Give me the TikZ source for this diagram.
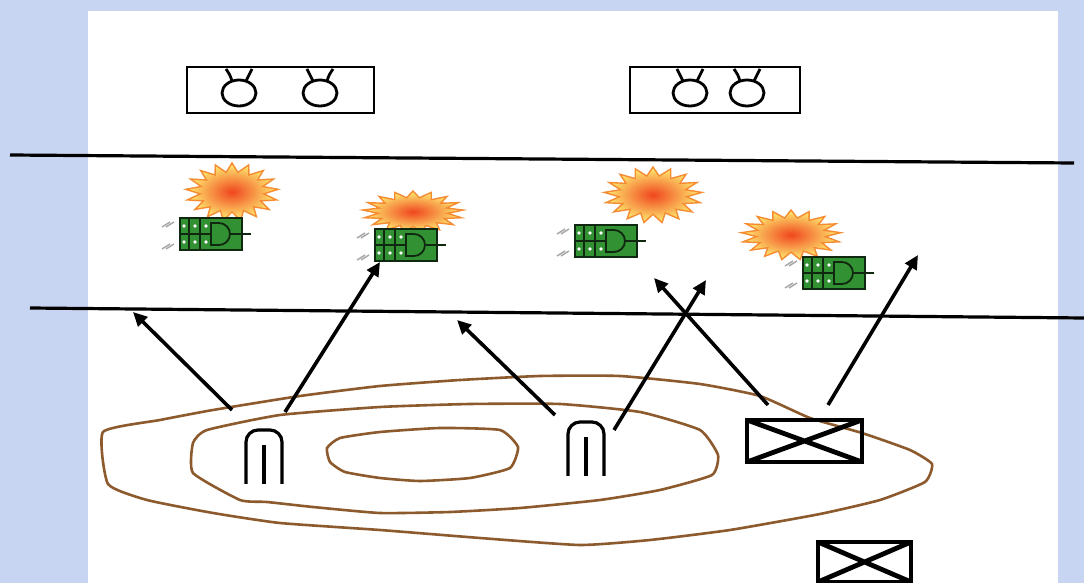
\documentclass[tikz,border=0pt]{standalone}
\usetikzlibrary{arrows.meta,shapes.geometric}

\definecolor{skyback}{RGB}{200,213,242}
\definecolor{relief}{RGB}{140,90,45}
\definecolor{tankgreen}{RGB}{50,145,50}
\definecolor{tankdark}{RGB}{15,40,15}
\definecolor{burstcore}{RGB}{240,70,30}
\definecolor{burstedge}{RGB}{255,238,115}
\definecolor{burstline}{RGB}{245,140,50}

\tikzset{
	road/.style={line width=1.6pt},
	fire/.style={line width=1.8pt, -{Triangle[length=7pt,width=6.5pt]}},
	contour/.style={draw=relief, line width=1.3pt},
	unitbox/.style={draw, line width=1.4pt, inner sep=0pt},
	hqbox/.style={draw, line width=2.4pt, inner sep=0pt,
		path picture={\draw[line width=2.4pt] (path picture bounding box.north west) -- (path picture bounding box.south east)
			(path picture bounding box.south west) -- (path picture bounding box.north east);}},
	burst/.style={star, star points=17, star point ratio=1.45, inner sep=0pt,
		draw=burstline, line width=0.7pt, shading=radial, inner color=burstcore, outer color=burstedge},
	% tank seen from above, gun pointing right
	tank/.pic={
		\draw[gray!70, line width=0.7pt] (-49,-7) -- (-41,-12) (-45,-7) -- (-37,-12)
			(-49,15) -- (-41,10) (-45,15) -- (-37,10);
		\draw[draw=tankdark, fill=tankgreen, line width=1.4pt] (-31,-16) rectangle (31,16);
		\draw[tankdark, line width=0.8pt] (-22,-16) -- (-22,16) (-11,-16) -- (-11,16) (-31,0) -- (0,0);
		\draw[tankdark, line width=0.9pt] (0,-11) -- (8,-11) arc[start angle=-90, end angle=90, radius=11] -- (0,11) -- cycle;
		\draw[tankdark, line width=1.3pt] (19,0) -- (40,0);
		\foreach \x in {-27,-16,-5}
			\foreach \y in {-8,8}
				\fill[white] (\x,\y) circle[radius=1.8];
	},
	% gun symbol inside the top boxes
	gunmark/.pic={
		\draw[line width=1.4pt] (0,0) ellipse[x radius=17, y radius=13];
		\draw[line width=1.4pt] (-7,-12) .. controls (-9,-18) .. (-13,-24)
			(7,-12) .. controls (9,-18) .. (13,-24);
	},
	% firing position
	battery/.pic={
		\draw[line width=1.6pt, rounded corners=6] (-18,27) -- (-18,-27) -- (18,-27) -- (18,27);
		\draw[line width=1.6pt] (0,-12) -- (0,27);
	}
}

\begin{document}
\begin{tikzpicture}[x=0.5pt, y=-0.5pt]
	\useasboundingbox (0,0) rectangle (1084,583);
	\fill[skyback] (0,0) rectangle (1084,583);
	\fill[white] (88,11) rectangle (1058,583);

	% height lines of the hill
	\draw[contour] plot[smooth cycle, tension=0.3] coordinates {(103,432) (160,420) (213,410) (300,396) (380,386) (460,380) (540,376) (620,376) (700,384) (760,396) (810,418) (862,433) (910,450) (932,464) (925,482) (880,500) (820,514) (730,530) (650,540) (580,545) (480,538) (380,530) (280,523) (213,513) (147,500) (108,484)};
	\draw[contour] plot[smooth cycle, tension=0.3] coordinates {(193,443) (207,430) (280,415) (380,407) (470,404) (560,404) (640,412) (700,430) (718,455) (712,475) (660,490) (600,500) (520,508) (450,512) (380,513) (313,507) (267,502) (240,500) (193,473)};
	\draw[contour] plot[smooth cycle, tension=0.3] coordinates {(327,448) (340,438) (380,432) (440,428) (500,430) (518,447) (510,468) (470,478) (420,481) (380,478) (345,472) (330,462)};

	% road
	\draw[road] (10,155) -- (1074,163);
	\draw[road] (30,308) -- (1084,318);

	% columns beyond the road
	\node (col1) [unitbox, minimum width=93.5pt, minimum height=23pt] at (280.5,90) {};
	\node (col2) [unitbox, minimum width=85pt, minimum height=23pt] at (715,90) {};
	\pic at (239,93) {gunmark};
	\pic at (320,93) {gunmark};
	\pic at (690,93) {gunmark};
	\pic at (747,93) {gunmark};

	% hits
	\node (boom1) [burst, minimum size=29pt, xscale=1.6] at (232,192) {};
	\node (boom2) [burst, minimum size=21pt, xscale=2.4] at (413,212) {};
	\node (boom3) [burst, minimum size=28pt, xscale=1.75] at (653,195) {};
	\node (boom4) [burst, minimum size=25pt, xscale=2.0] at (791,235) {};

	\pic (tank1) at (211,234) {tank};
	\pic (tank2) at (406,245) {tank};
	\pic (tank3) at (606,241) {tank};
	\pic (tank4) at (834,273) {tank};

	% own positions
	\pic (fp1) at (264,457) {battery};
	\pic (fp2) at (586,449) {battery};
	\node (hq1) [hqbox, minimum width=57.5pt, minimum height=21pt] at (804.5,441) {};
	\node (hq2) [hqbox, minimum width=46.5pt, minimum height=20pt] at (864.5,562) {};

	% lines of fire
	\coordinate (fp1 left) at (232,410);
	\coordinate (fp1 right) at (285,412);
	\coordinate (fp2 left) at (555,415);
	\coordinate (fp2 right) at (614,430);
	\coordinate (hq1 left) at (768,405);
	\coordinate (hq1 right) at (828,405);
	\coordinate (aim1) at (133,312);
	\coordinate (aim2) at (380,262);
	\coordinate (aim3) at (457,320);
	\coordinate (aim4) at (706,280);
	\coordinate (aim5) at (654,278);
	\coordinate (aim6) at (918,255);

	\draw[fire] (fp1 left) -- (aim1);
	\draw[fire] (fp1 right) -- (aim2);
	\draw[fire] (fp2 left) -- (aim3);
	\draw[fire] (fp2 right) -- (aim4);
	\draw[fire] (hq1 left) -- (aim5);
	\draw[fire] (hq1 right) -- (aim6);
\end{tikzpicture}
\end{document}
